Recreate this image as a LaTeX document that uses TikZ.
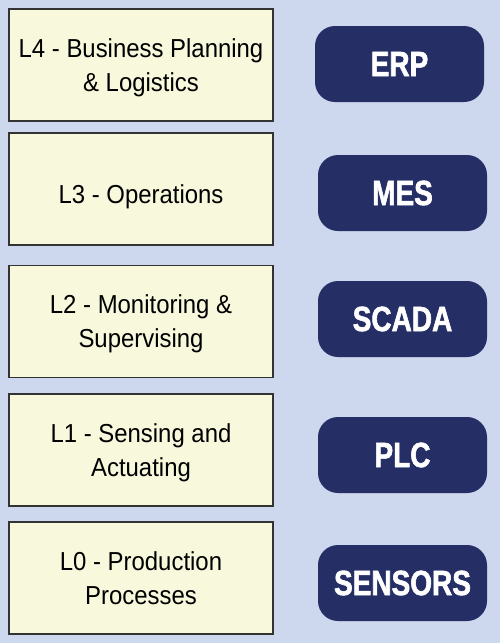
\documentclass[tikz,border=0pt]{standalone}
\usepackage{fontspec}
\setmainfont{Liberation Sans}
\newfontfamily\levelfont[FakeStretch=0.92]{Liberation Sans}
\newfontfamily\sysfont[FakeStretch=0.8,FakeBold=1.6]{Liberation Sans Bold}
\definecolor{bgblue}{HTML}{CDD7EE}
\definecolor{paleyellow}{HTML}{F7F8DC}
\definecolor{navy}{HTML}{252F66}
\definecolor{edgegrey}{HTML}{333333}
\tikzset{
  level/.style={shape=rectangle,draw=edgegrey,line width=1.3pt,fill=paleyellow,
    minimum width=264pt,minimum height=112pt,align=center,
    font=\levelfont\fontsize{26}{34}\selectfont},
  oneline/.style={text height=30pt,text depth=2pt},
  twoline/.style={text height=54pt,text depth=2pt},
  system/.style={shape=rectangle,rounded corners=20pt,fill=navy,text=white,
    minimum width=169pt,minimum height=76pt,
    font=\sysfont\fontsize{35}{40}\selectfont}
}
\begin{document}
\begin{tikzpicture}[x=1pt,y=-1pt]
\fill[bgblue] (0,0) rectangle (500,643);
\node[level,twoline](L4) at (141,65) {L4 - Business Planning\\\& Logistics};
\node[level,oneline](L3) at (141,189) {L3 - Operations};
\node[level,twoline](L2) at (141,321.5) {L2 - Monitoring \&\\Supervising};
\node[level,twoline](L1) at (141,450) {L1 - Sensing and\\Actuating};
\node[level,twoline](L0) at (141,578) {L0 - Production\\Processes};

\node[system](ERP) at (399.5,64) {ERP};
\node[system](MES) at (402.5,193) {MES};
\node[system](SCADA) at (402.5,319) {SCADA};
\node[system](PLC) at (402.5,455) {PLC};
\node[system](SENSORS) at (402.5,583) {SENSORS};
\end{tikzpicture}
\end{document}
